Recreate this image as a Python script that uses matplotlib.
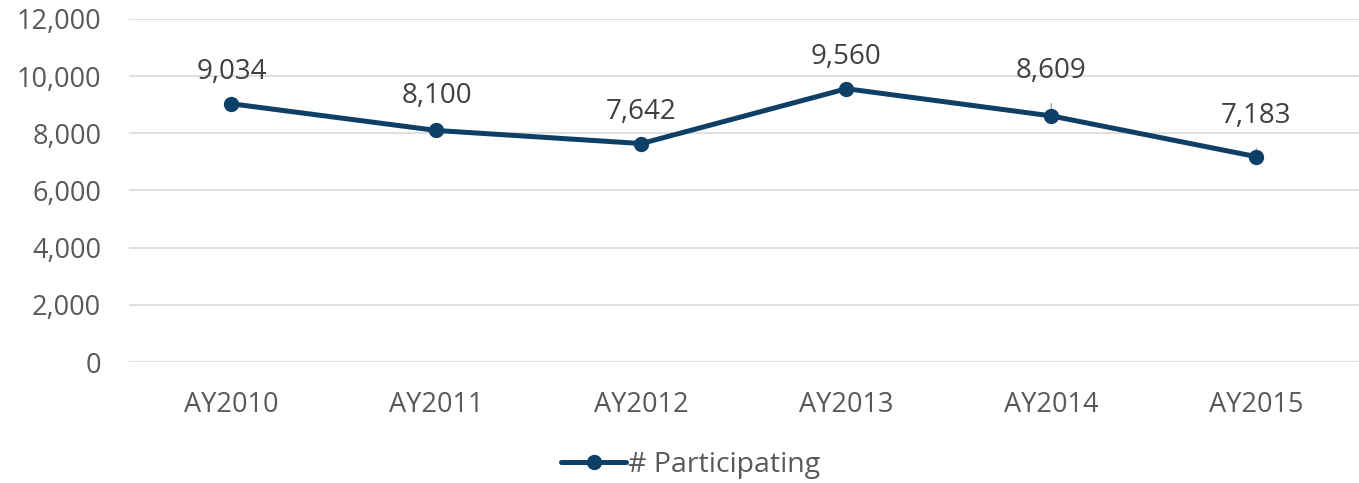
import matplotlib
matplotlib.use("Agg")
import matplotlib.pyplot as plt
from matplotlib.ticker import FuncFormatter

categories = ["AY2010", "AY2011", "AY2012", "AY2013", "AY2014", "AY2015"]
participating = [9034, 8100, 7642, 9560, 8609, 7183]
label_offsets = [23, 25, 23, 23, 32, 29]  # points above each marker
series_name = "# Participating"

plt.rcParams['font.family'] = ['Open Sans', 'DejaVu Sans']

line_color = "#0E3F66"
tick_color = "#595959"
label_color = "#404040"
grid_color = "#D9D9D9"

fig = plt.figure(figsize=(13.59, 4.83), dpi=100)
ax = fig.add_axes([0.0949, 0.2505, 0.905, 0.7102])

x = list(range(len(categories)))
ax.plot(x, participating, color=line_color, lw=3.6, marker="o", ms=10,
        solid_capstyle="round", zorder=3, label=series_name)

for xi, v, off in zip(x, participating, label_offsets):
    arrow = None
    if off >= 25:
        arrow = dict(arrowstyle="-", color="#A6A6A6", lw=1, shrinkA=11, shrinkB=3)
    ax.annotate(f"{v:,}", xy=(xi, v), xytext=(0, off), textcoords="offset points",
                ha="center", va="center", fontsize=20, color=label_color, zorder=2,
                arrowprops=arrow)

ax.set_xlim(-0.5, len(categories) - 0.5)
ax.set_ylim(0, 12000)
ax.set_yticks(range(0, 12001, 2000))
ax.yaxis.set_major_formatter(FuncFormatter(lambda v, p: f"{int(v):,}"))
ax.set_xticks(x)
ax.set_xticklabels(categories)
ax.tick_params(axis="both", length=0, labelsize=19.5, colors=tick_color)
ax.tick_params(axis="y", pad=20)
ax.tick_params(axis="x", pad=21)
ax.grid(axis="y", color=grid_color, lw=1.2)
ax.set_axisbelow(True)
for s in ["top", "right", "left", "bottom"]:
    ax.spines[s].set_visible(False)

leg = fig.legend(loc="center", bbox_to_anchor=(0.508, 0.037), frameon=False,
                 fontsize=20.5, handlelength=2.3, handletextpad=0.05)
for t in leg.get_texts():
    t.set_color(tick_color)

fig.savefig("out.png", dpi=100)
